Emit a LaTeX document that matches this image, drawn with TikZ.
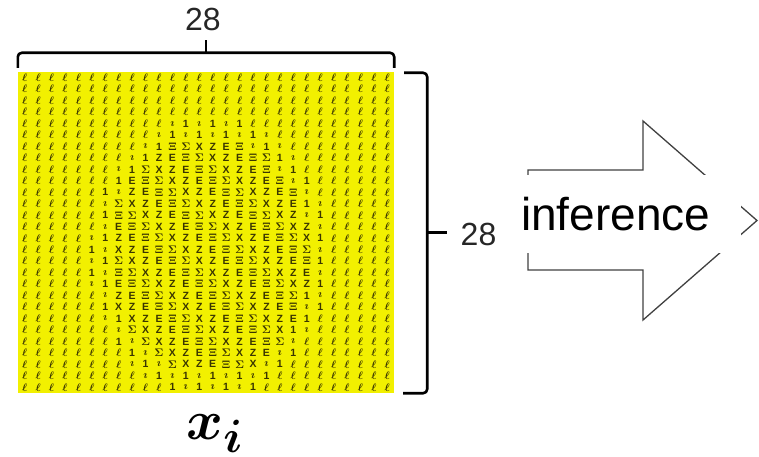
\documentclass[tikz,border=0pt]{standalone}
\usepackage{amsmath,amssymb}
\usepackage{fontspec}
\setmainfont{Liberation Sans}
\definecolor{imgyellow}{RGB}{242,240,0}
\definecolor{glyph}{RGB}{58,54,0}
\newcommand{\pixmark}[1]{\ifcase#1 $\boldsymbol{\Xi}$\or\textbf{X}\or\textbf{E}\or$\boldsymbol{\Sigma}$\or\textbf{Z}\or\textbf{1}\or$\boldsymbol{\imath}$\else$\boldsymbol{\ell}$\fi}
\tikzset{
  imgbox/.style={fill=imgyellow,minimum width=376pt,minimum height=321pt,inner sep=0pt},
  pix/.style={text=glyph,font=\fontsize{10.5}{10.5}\selectfont,inner sep=0pt},
  brk/.style={line width=2.6pt,rounded corners=4pt},
  dimlbl/.style={font=\fontsize{32}{32}\selectfont,text=black!85},
  bigarrow/.style={draw=black!75,line width=1.3pt,line join=miter},
  inflbl/.style={fill=white,font=\fontsize{46}{46}\selectfont,inner sep=0pt,minimum width=220pt,minimum height=78pt,text width=220pt,align=left},
  veclbl/.style={font=\fontsize{24.88}{25}\selectfont,scale=2.25,transform shape,inner sep=0pt}
}

\begin{document}
\begin{tikzpicture}[x=1pt,y=-1pt]
  \useasboundingbox (0,0) rectangle (759,457);
  \node[imgbox] (img) at (206,232.5) {};
  \foreach \r in {0,...,27}{
    \foreach \c in {0,...,27}{
      \pgfmathsetmacro{\dd}{((\c-13.8)/7.6)^2+((\r-15.6)/10.4)^2}
      \pgfmathtruncatemacro{\kk}{mod(\r*7+\c*3,5)}
      \ifdim\dd pt<1pt\else\ifdim\dd pt<1.4pt\pgfmathtruncatemacro{\kk}{5+mod(\r+\c,2)}\else\def\kk{7}\fi\fi
      \node[pix] (p-\r-\c) at ({18+13.43*(\c+0.5)},{72+11.464*(\r+0.5)}) {\pixmark{\kk}};
    }
  }

  \draw[brk] ([yshift=4pt]img.north west) |- ([yshift=19pt]img.north) -| ([yshift=4pt]img.north east);
  \draw[line width=2.6pt] ([yshift=19pt]img.north) -- ([yshift=32pt]img.north);
  \draw[brk] ([xshift=10pt,yshift=-1pt]img.north east) -| ([xshift=33pt]img.east) |- ([xshift=9pt]img.south east);
  \draw[line width=2.6pt] ([xshift=33pt]img.east) -- ([xshift=53pt]img.east);

  \node[dimlbl] (wd) at ([xshift=-3pt,yshift=52pt]img.north) {28};
  \node[dimlbl,anchor=west] (ht) at ([xshift=63pt,yshift=-2pt]img.east) {28};

  \draw[bigarrow] (528,170) -- (643,170) -- (643,121) -- (757,220.5) -- (643,320) -- (643,270) -- (528,270) -- cycle;
  \node[inflbl,anchor=west] (inf) at (521,214) {inference};

  \node[veclbl,anchor=base] (xi) at ([xshift=9pt,yshift=-46pt]img.south) {$\boldsymbol{x}_{\boldsymbol{i}}$};
\end{tikzpicture}
\end{document}
